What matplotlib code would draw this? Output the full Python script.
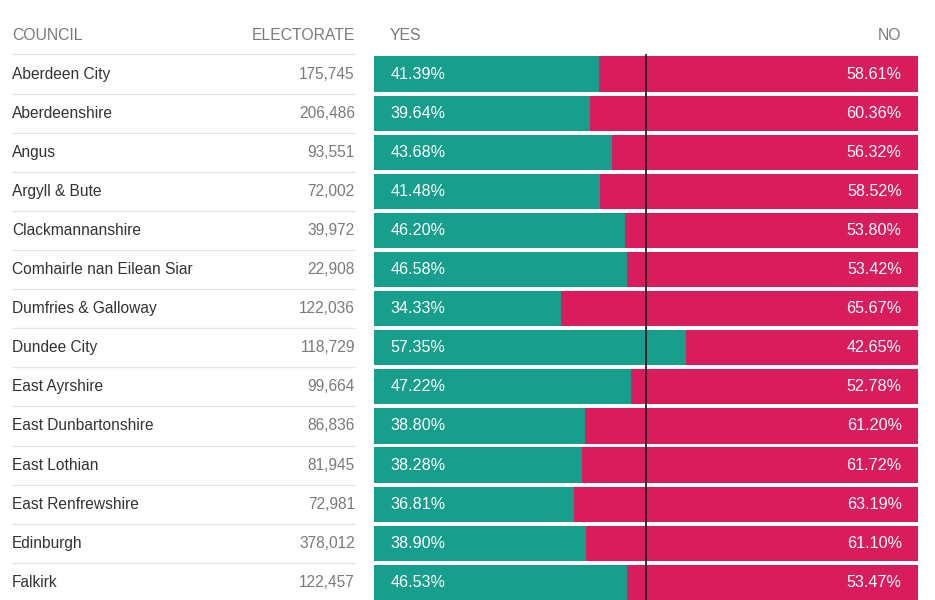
import matplotlib
matplotlib.use("Agg")
import matplotlib.pyplot as plt
from matplotlib.transforms import blended_transform_factory

plt.rcParams['font.family'] = ['Liberation Sans', 'DejaVu Sans']

# data
councils = ["Aberdeen City", "Aberdeenshire", "Angus", "Argyll & Bute",
            "Clackmannanshire", "Comhairle nan Eilean Siar", "Dumfries & Galloway",
            "Dundee City", "East Ayrshire", "East Dunbartonshire", "East Lothian",
            "East Renfrewshire", "Edinburgh", "Falkirk"]
electorate = [175745, 206486, 93551, 72002, 39972, 22908, 122036,
              118729, 99664, 86836, 81945, 72981, 378012, 122457]
yes_pct = [41.39, 39.64, 43.68, 41.48, 46.20, 46.58, 34.33,
           57.35, 47.22, 38.80, 38.28, 36.81, 38.90, 46.53]
no_pct = [58.61, 60.36, 56.32, 58.52, 53.80, 53.42, 65.67,
          42.65, 52.78, 61.20, 61.72, 63.19, 61.10, 53.47]

teal = "#189e8c"
crimson = "#d81c5c"
W, H = 935, 600

fig = plt.figure(figsize=(W / 100, H / 100), dpi=100)
ax = fig.add_axes([374 / W, 0, (918 - 374) / W, 1 - 54.5 / H])

rows = list(range(len(councils)))
ax.barh(rows, yes_pct, height=0.9, color=teal)
ax.barh(rows, no_pct, left=yes_pct, height=0.9, color=crimson)
ax.set_xlim(0, 100)
ax.set_ylim(13.45, -0.5)
ax.axvline(50, ymin=0, ymax=1.0, color="#2a1a20", lw=1.3, clip_on=False)
ax.axis("off")

# table columns on the left, in figure-x / data-y coordinates
tr = blended_transform_factory(fig.transFigure, ax.transData)
for i in rows:
    ax.text(12 / W, i, councils[i], transform=tr, ha="left", va="center",
            fontsize=11.2, color="#333333", clip_on=False)
    ax.text(355 / W, i, f"{electorate[i]:,}", transform=tr, ha="right", va="center",
            fontsize=11.2, color="#7a7a7a", clip_on=False)
    ax.text(3, i, f"{yes_pct[i]:.2f}%", ha="left", va="center",
            fontsize=11.6, color="white")
    ax.text(97, i, f"{no_pct[i]:.2f}%", ha="right", va="center",
            fontsize=11.6, color="white")

for i in range(len(councils) + 1):
    ax.plot([12 / W, 355 / W], [i - 0.5, i - 0.5], transform=tr,
            color="#e6e6e6", lw=1, clip_on=False)

# headers
hy = 1 - 36 / H
for label, x, ha in [("COUNCIL", 12, "left"), ("ELECTORATE", 355, "right"),
                     ("YES", 390, "left"), ("NO", 901, "right")]:
    fig.text(x / W, hy, label, ha=ha, va="center", fontsize=11.3, color="#7a7a7a")

fig.savefig("out.png", dpi=100)
